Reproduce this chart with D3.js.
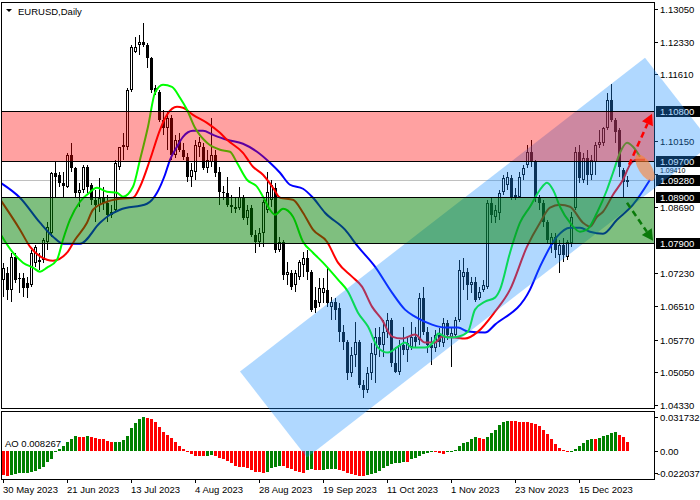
<!DOCTYPE html>
<html><head><meta charset="utf-8">
<script src="https://cdn.jsdelivr.net/npm/d3@7"></script>
<style>
body{margin:0;background:#fff}
svg{display:block}
text{font-family:"Liberation Sans",Arial,sans-serif;font-size:9.5px}
</style>
</head><body>
<svg id="c" width="700" height="500"></svg>
<script>
// ---------------- DATA ----------------
const symbolTitle = "EURUSD,Daily";
const opens = [1.07090,1.07244,1.06870,1.07596,1.07134,1.07134,1.07024,1.06980,1.07464,1.07486,
1.07530,1.07926,1.08124,1.09444,1.09400,1.09224,1.09136,1.09840,1.09554,1.09004,
1.09070,1.09576,1.09180,1.08850,1.08740,1.08894,1.08784,1.08520,1.08630,1.09576,
1.10016,1.10016,1.11270,1.12106,1.12260,1.12326,1.12260,1.11974,1.11314,1.11226,
1.10610,1.10434,1.10654,1.09840,1.10170,1.09950,1.09796,1.09356,1.09466,1.10016,
1.10016,1.09554,1.09686,1.09840,1.09466,1.09026,1.09004,1.08740,1.08652,1.08674,
1.08916,1.08454,1.08674,1.08080,1.07926,1.08124,1.08630,1.08850,1.09114,1.07750,
1.07926,1.07200,1.07244,1.06980,1.07156,1.07420,1.07574,1.07266,1.06650,1.06584,
1.06804,1.06870,1.06496,1.06606,1.06474,1.05946,1.05726,1.05044,1.05440,1.05726,
1.04780,1.04670,1.05044,1.05440,1.05836,1.05660,1.05946,1.06210,1.05264,1.05066,
1.05660,1.05550,1.05616,1.05836,1.05770,1.06694,1.05946,1.05660,1.05594,1.05880,
1.05704,1.06144,1.05836,1.05880,1.06210,1.07156,1.07266,1.06980,1.07046,1.06694,
1.06870,1.06936,1.08784,1.08476,1.08564,1.09026,1.09180,1.09334,1.08960,1.08916,
1.09400,1.09620,1.09906,1.09686,1.08894,1.08784,1.08366,1.07860,1.08036,1.07640,
1.07860,1.07596,1.07904,1.08674,1.09906,1.09290,1.09774,1.09400,1.09686,1.10060,
1.10104,1.10434,1.11050,1.10610,1.10390,1.09510,1.09246];
const highs = [1.07464,1.07376,1.07684,1.07684,1.07244,1.07244,1.07156,1.07750,1.07860,1.07684,
1.08014,1.08366,1.09466,1.09686,1.09466,1.09466,1.09884,1.10104,1.09576,1.09224,
1.09620,1.09620,1.09224,1.09070,1.09334,1.09136,1.08960,1.08740,1.09730,1.10016,
1.10324,1.11314,1.12260,1.12436,1.12480,1.12744,1.12304,1.11996,1.11380,1.11270,
1.10830,1.10786,1.10720,1.10280,1.10324,1.10104,1.09884,1.09664,1.10170,1.10236,
1.10104,1.09950,1.10654,1.09950,1.09576,1.09158,1.09356,1.08960,1.08916,1.09136,
1.08960,1.08740,1.08740,1.08190,1.08234,1.08850,1.09466,1.09290,1.09224,1.08036,
1.07970,1.07486,1.07310,1.07310,1.07530,1.07706,1.07750,1.07310,1.06936,1.07134,
1.07134,1.07376,1.06716,1.06694,1.06584,1.06100,1.05770,1.05616,1.06166,1.05770,
1.04890,1.05176,1.05704,1.06034,1.06056,1.06210,1.06364,1.06254,1.05616,1.05770,
1.06056,1.05836,1.06166,1.06056,1.06804,1.06936,1.06056,1.05836,1.05990,1.06034,
1.06254,1.06210,1.06034,1.06276,1.07530,1.07574,1.07354,1.07156,1.07156,1.06936,
1.07090,1.08850,1.08894,1.08740,1.09070,1.09400,1.09466,1.09400,1.09114,1.09466,
1.09620,1.10060,1.10170,1.09730,1.08960,1.08850,1.08410,1.08124,1.08124,1.07970,
1.08014,1.07970,1.08586,1.10016,1.10060,1.09884,1.09950,1.09840,1.10126,1.10390,
1.10456,1.11204,1.11402,1.10654,1.10434,1.09554,1.09378];
const lows = [1.06716,1.06650,1.06606,1.07024,1.06804,1.06716,1.06694,1.06936,1.07376,1.07310,
1.07464,1.07750,1.08036,1.08916,1.09136,1.08894,1.09114,1.09466,1.08916,1.08696,
1.09004,1.09004,1.08740,1.08366,1.08586,1.08630,1.08366,1.08454,1.08564,1.09510,
1.09730,1.09950,1.11226,1.12084,1.12040,1.12216,1.11754,1.11204,1.11160,1.10566,
1.10280,1.09950,1.09730,1.09774,1.09906,1.09730,1.09246,1.09136,1.09290,1.09796,
1.09510,1.09444,1.09576,1.09356,1.08740,1.08850,1.08696,1.08564,1.08564,1.08630,
1.08410,1.08300,1.08036,1.07684,1.07816,1.07816,1.08564,1.08696,1.07684,1.07706,
1.07090,1.06980,1.06870,1.06826,1.07090,1.07156,1.07090,1.06386,1.06364,1.06496,
1.06584,1.06496,1.06210,1.06210,1.05726,1.05550,1.04890,1.04956,1.05176,1.04714,
1.04494,1.04604,1.04890,1.04824,1.05396,1.05396,1.05814,1.05176,1.05044,1.05000,
1.05440,1.05286,1.05550,1.05616,1.05660,1.05880,1.05484,1.05220,1.05506,1.05616,
1.05616,1.05770,1.05176,1.05814,1.06166,1.06870,1.06650,1.06804,1.06606,1.06650,
1.06826,1.06892,1.08344,1.08344,1.08410,1.08960,1.09070,1.08850,1.08850,1.08894,
1.09290,1.09554,1.09576,1.08806,1.08630,1.08256,1.07904,1.07684,1.07574,1.07244,
1.07486,1.07530,1.07816,1.08630,1.09224,1.09224,1.09180,1.09290,1.09400,1.09994,
1.10038,1.10390,1.10566,1.10104,1.09356,1.08916,1.09136];
const closes = [1.07354,1.06870,1.07596,1.07090,1.07112,1.06914,1.06914,1.07684,1.07816,1.07530,
1.07970,1.08256,1.09444,1.09356,1.09224,1.09158,1.09840,1.09554,1.09004,1.09070,
1.09576,1.09136,1.08850,1.08740,1.08894,1.08784,1.08520,1.08586,1.09664,1.10016,
1.10060,1.11270,1.12216,1.12216,1.12326,1.12260,1.11974,1.11270,1.11226,1.10610,
1.10434,1.10654,1.09840,1.10170,1.09950,1.09796,1.09356,1.09510,1.10060,1.10126,
1.09554,1.09730,1.09840,1.09444,1.09026,1.09004,1.08740,1.08696,1.08696,1.08916,
1.08454,1.08630,1.08080,1.07926,1.08124,1.08806,1.09026,1.09180,1.07750,1.07926,
1.07200,1.07266,1.06936,1.07244,1.07486,1.07574,1.07266,1.06430,1.06474,1.06914,
1.06914,1.06584,1.06606,1.06430,1.05946,1.05726,1.05044,1.05440,1.05726,1.04780,
1.04670,1.05044,1.05484,1.05836,1.05660,1.05946,1.06210,1.05264,1.05066,1.05660,
1.05550,1.05704,1.05836,1.05726,1.06694,1.05946,1.05660,1.05594,1.05880,1.05726,
1.06144,1.05880,1.05924,1.06210,1.07310,1.07266,1.06980,1.07046,1.06650,1.06826,
1.06980,1.08784,1.08520,1.08630,1.09004,1.09334,1.09356,1.08916,1.08894,1.09356,
1.09554,1.09906,1.09686,1.08916,1.08784,1.08366,1.07970,1.08036,1.07750,1.07860,
1.07640,1.07926,1.08476,1.09906,1.09334,1.09774,1.09400,1.09730,1.10060,1.10126,
1.10434,1.11050,1.10610,1.10346,1.09576,1.09246,1.09280];

// Alligator lines: [bar index, price]
const jawLine = [[-1,1.09246],[4.25,1.08894],[9.25,1.08344],[12.5,1.08036],[15,1.07882],[19.25,1.07882],
[24.25,1.08344],[26.75,1.08520],[29.25,1.08630],[36,1.08762],[38.5,1.09004],[40.5,1.09400],[41.75,1.09730],
[43.5,1.10016],[45,1.10236],[47.5,1.10368],[50,1.10368],[52.5,1.10280],[56,1.10170],[60,1.10082],
[63.5,1.09906],[66.75,1.09664],[69.25,1.09444],[71.75,1.09180],[75,1.09092],[77.5,1.08894],[80.5,1.08564],
[85.5,1.08190],[88.75,1.07816],[93,1.07376],[97.25,1.06804],[100.5,1.06430],[103,1.06276],[107.25,1.06100],
[110.5,1.06034],[113.75,1.06034],[116.25,1.05946],[120.5,1.05924],[123,1.06100],[131.75,1.06870],
[134.25,1.07376],[138.5,1.08036],[141.75,1.08234],[144.25,1.08234],[146.75,1.08146],[150,1.08102],
[153.5,1.08410],[157.5,1.08740],[161.75,1.09290]];
const teethLine = [[-1,1.08894],[4.25,1.08190],[6.75,1.07816],[11,1.07530],[12.5,1.07508],[16,1.07684],
[18,1.07970],[21,1.08344],[22.5,1.08630],[26,1.08806],[29.25,1.08872],[32.5,1.08894],[34.25,1.09136],
[36.75,1.09730],[39.25,1.10390],[41,1.10720],[43.5,1.10896],[45,1.10874],[47.5,1.10720],[51,1.10544],
[54.25,1.10324],[56,1.10170],[60,1.09884],[62.5,1.09576],[65,1.09400],[67.5,1.09114],[69.25,1.08894],
[72.5,1.08850],[75,1.08564],[77.5,1.08190],[81,1.07926],[83.75,1.07464],[87.25,1.07156],[89.75,1.06936],
[92.25,1.06496],[94.75,1.06210],[97.25,1.05836],[99.75,1.05792],[103,1.05880],[105.5,1.05704],[108,1.05704],
[109.75,1.05836],[113,1.05814],[115.5,1.05792],[118.75,1.05946],[123,1.06386],[126.75,1.06870],[131,1.07816],
[134.25,1.08344],[136.75,1.08674],[139.25,1.08740],[141.75,1.08696],[145,1.08344],[146.75,1.08256],
[148.5,1.08476],[150,1.08586],[152.5,1.08960],[155,1.09290],[156.75,1.09620],[158.5,1.09730],[160.5,1.09730]];
const lipsLine = [[-1,1.08146],[2.5,1.07684],[5,1.07464],[7.5,1.07354],[9.25,1.07266],[11,1.07354],
[13.5,1.07530],[15,1.07970],[16.75,1.08410],[19.25,1.08806],[21,1.08960],[23.5,1.09114],[26,1.09026],
[28.5,1.09004],[30,1.08916],[32.5,1.09136],[34.25,1.09730],[36.25,1.10456],[38,1.11204],[40,1.11380],
[42.25,1.11336],[44.25,1.11094],[46,1.10830],[48,1.10434],[51,1.10104],[54.25,1.09950],[56.75,1.09906],
[58.5,1.09664],[61,1.09290],[63.5,1.09136],[65,1.08916],[66.75,1.08630],[68,1.08520],[70,1.08652],
[72.5,1.08476],[75,1.07926],[77.5,1.07684],[80,1.07464],[83.75,1.07090],[86.25,1.06826],[88.75,1.06364],
[91.25,1.06056],[93.75,1.05594],[96.25,1.05484],[98.75,1.05616],[100.5,1.05704],[102.25,1.05594],
[105.5,1.05594],[108,1.05770],[108.75,1.05902],[111.25,1.05814],[113.75,1.05836],[116.25,1.05946],
[118,1.06430],[120.5,1.06606],[123,1.06694],[124.25,1.06870],[126.75,1.07684],[129.25,1.08344],
[131.75,1.08696],[134.25,1.09070],[136,1.09224],[137.5,1.09070],[139.25,1.08696],[141.75,1.08344],
[144.25,1.08146],[146,1.08190],[148.5,1.08564],[151,1.09070],[152.5,1.09444],[154.25,1.09884],
[156,1.10104],[157.5,1.10016],[159.25,1.09796]];

// Awesome Oscillator, first value belongs to bar -1
const aoStartBar = -1;
const aoValues = [-0.0216,-0.0224,-0.0230,-0.0224,-0.0215,-0.0209,-0.0207,-0.0202,-0.0193,-0.0184,-0.0171,
-0.0146,-0.0106,-0.0078,0.0004,0.0016,0.0047,0.0087,0.0112,0.0140,0.0135,
0.0133,0.0141,0.0129,0.0120,0.0116,0.0108,0.0090,0.0080,0.0082,0.0087,
0.0103,0.0143,0.0210,0.0265,0.0300,0.0318,0.0312,0.0300,0.0270,0.0225,
0.0180,0.0149,0.0118,0.0081,0.0047,0.0019,-0.0012,-0.0031,-0.0044,-0.0047,
-0.0050,-0.0046,-0.0040,-0.0047,-0.0062,-0.0078,-0.0093,-0.0115,-0.0140,-0.0146,
-0.0150,-0.0162,-0.0177,-0.0193,-0.0199,-0.0202,-0.0193,-0.0162,-0.0146,-0.0137,
-0.0140,-0.0156,-0.0171,-0.0187,-0.0196,-0.0202,-0.0180,-0.0171,-0.0173,-0.0175,
-0.0173,-0.0172,-0.0171,-0.0170,-0.0174,-0.0184,-0.0202,-0.0215,-0.0224,-0.0230,
-0.0233,-0.0227,-0.0215,-0.0202,-0.0184,-0.0156,-0.0140,-0.0125,-0.0115,-0.0109,
-0.0103,-0.0106,-0.0078,-0.0062,-0.0047,-0.0028,-0.0016,-0.0009,-0.0012,-0.0022,
-0.0028,-0.0009,0.0002,0.0009,0.0047,0.0072,0.0087,0.0109,0.0128,0.0120,
0.0113,0.0135,0.0165,0.0200,0.0240,0.0268,0.0280,0.0279,0.0277,0.0275,
0.0272,0.0270,0.0265,0.0255,0.0230,0.0195,0.0155,0.0110,0.0065,0.0030,
0.0005,-0.0012,-0.0005,0.0015,0.0045,0.0075,0.0098,0.0115,0.0112,0.0125,
0.0140,0.0152,0.0165,0.0175,0.0150,0.0128,0.008267];
const aoTitle = "AO 0.008267";
const aoTicks = [0.031732, 0, -0.022037];
const aoTickLabels = ["0.031732","0.00","-0.022037"];

const dateTickBars = [0,16,32,48,64,80,96,112,128,144];
const dateTickLabels = ["30 May 2023","21 Jun 2023","13 Jul 2023","4 Aug 2023","28 Aug 2023",
"19 Sep 2023","11 Oct 2023","1 Nov 2023","23 Nov 2023","15 Dec 2023"];
const priceTickLabels = ["1.13050","1.12330","1.11610","1.10150","1.09410","1.08690",
"1.07230","1.06510","1.05770","1.05050","1.04330"];

const levels = [1.10800, 1.09700, 1.08900, 1.07900];
const levelLabels = ["1.10800","1.09700","1.08900","1.07900"];
const currentPrice = 1.09280;
const currentLabel = "1.09280";
const resistanceZone = [1.09700, 1.10800];
const supportZone = [1.07900, 1.08900];
// rising channel drawing: [bar index, price]
const channelCorners = [[59.25,1.05066],[160.5,1.11974],[177.25,1.10082],[76,1.03174]];
const upArrow = [[156.5,1.09620],[162.25,1.10742]];
const downArrow = [[156,1.08784],[162.5,1.07948]];
const markEllipse = {bar:160.5, price:1.09554};

// ---------------- CHART ----------------
const svg = d3.select("#c");
const mainL = 1, mainR = 654, mainT = 2, mainB = 408, aoT = 411, aoB = 479;

const x = d3.scaleLinear().domain([0, 156]).range([3, 627]);
const y = d3.scaleLinear().domain([1.04330, 1.13050]).range([405, 9]);
const yAO = d3.scaleLinear().domain([0, 0.031732]).range([451, 417]);

svg.append("rect").attr("width",700).attr("height",500).attr("fill","#fff");
const defs = svg.append("defs");
defs.append("clipPath").attr("id","clipMain").append("rect")
  .attr("x",mainL+1).attr("y",mainT+1).attr("width",mainR-mainL-1).attr("height",mainB-mainT-1);
defs.append("clipPath").attr("id","clipAO").append("rect")
  .attr("x",mainL+1).attr("y",aoT+1).attr("width",mainR-mainL-1).attr("height",aoB-aoT-1);

const px = v => Math.round(v);

// current price line
svg.append("line").attr("x1",mainL).attr("x2",mainR)
  .attr("y1",px(y(currentPrice))+0.5).attr("y2",px(y(currentPrice))+0.5)
  .attr("stroke","#c0c0c0").attr("stroke-width",1);

// candles
const gC = svg.append("g").attr("clip-path","url(#clipMain)").attr("shape-rendering","crispEdges");
opens.forEach((o,i) => {
  const c = closes[i];
  const cx = px(x(i));
  const yh = px(y(highs[i])), yl = px(y(lows[i]));
  gC.append("rect").attr("x",cx).attr("y",yh).attr("width",1).attr("height",Math.max(1,yl-yh)).attr("fill","#000");
  const yt = px(y(Math.max(o,c))), yb = px(y(Math.min(o,c)));
  const bh = Math.max(1, yb-yt);
  gC.append("rect").attr("x",cx-1).attr("y",yt).attr("width",3).attr("height",bh).attr("fill","#000");
  if (c > o && bh > 2)
    gC.append("rect").attr("x",cx).attr("y",yt+1).attr("width",1).attr("height",bh-2).attr("fill","#fff");
});

// alligator
const lineGen = d3.line().x(d => x(d[0])).y(d => y(d[1])).curve(d3.curveMonotoneX);
const gL = svg.append("g").attr("clip-path","url(#clipMain)");
[[jawLine,"#0000ff"],[teethLine,"#ff0000"],[lipsLine,"#00ff00"]].forEach(([d,col]) => {
  gL.append("path").attr("d",lineGen(d)).attr("fill","none").attr("stroke",col).attr("stroke-width",2);
});

// AO histogram
const gA = svg.append("g").attr("clip-path","url(#clipAO)").attr("shape-rendering","crispEdges");
aoValues.forEach((v,k) => {
  if (k === 0) return;
  const i = k + aoStartBar;
  const col = v > aoValues[k-1] ? "#008000" : "#ff0000";
  const y0 = px(yAO(0)), y1 = px(yAO(v));
  const top = Math.min(y0,y1), h = Math.max(1, Math.abs(y1-y0));
  gA.append("rect").attr("x",px(x(i))-1).attr("y",top).attr("width",3).attr("height",h).attr("fill",col);
});

// frames
const gF = svg.append("g").attr("shape-rendering","crispEdges").attr("stroke","#000").attr("fill","none");
gF.append("rect").attr("x",mainL+0.5).attr("y",mainT+0.5).attr("width",mainR-mainL).attr("height",mainB-mainT);
gF.append("rect").attr("x",mainL+0.5).attr("y",aoT+0.5).attr("width",mainR-mainL).attr("height",aoB-aoT);

// right price axis
const gY = svg.append("g");
const boxYs = levels.concat([currentPrice]).map(v => px(y(v))).sort((a,b) => a-b);
priceTickLabels.forEach(t => {
  const yy = px(y(+t));
  gY.append("line").attr("x1",mainR).attr("x2",mainR+4).attr("y1",yy+0.5).attr("y2",yy+0.5).attr("stroke","#000");
  // if a price box covers this tick, squeeze the label into the gap between boxes
  const hit = boxYs.some(b => Math.abs(yy-b) < 10);
  if (hit) {
    const above = boxYs.filter(b => b <= yy + 9).filter(b => b < yy + 10);
    const upper = Math.max(...boxYs.filter(b => b < yy - 2));
    const lower = Math.min(...boxYs.filter(b => b > yy - 2));
    const mid = (upper + lower) / 2;
    gY.append("text").attr("x",mainR+6).attr("y",mid+2.5).attr("fill","#000")
      .style("font-size","7px").text(t);
  } else {
    gY.append("text").attr("x",mainR+6).attr("y",yy+3.5).attr("fill","#000").text(t);
  }
});
// AO axis
aoTicks.forEach((t,k) => {
  const yy = Math.min(px(yAO(t)), aoB-6);
  gY.append("line").attr("x1",mainR).attr("x2",mainR+4).attr("y1",yy+0.5).attr("y2",yy+0.5).attr("stroke","#000");
  gY.append("text").attr("x",mainR+(t<0?3:6)).attr("y",yy+3.5).attr("fill","#000").text(aoTickLabels[k]);
});
// date axis
dateTickBars.forEach((b,k) => {
  const xx = px(x(b));
  gY.append("line").attr("x1",xx+0.5).attr("x2",xx+0.5).attr("y1",aoB).attr("y2",aoB+4).attr("stroke","#000");
  gY.append("text").attr("x",xx).attr("y",493).attr("fill","#000").text(dateTickLabels[k]);
});

// label boxes
function box(val,label){
  const yy = px(y(val));
  gY.append("rect").attr("x",mainR+2).attr("y",yy-5).attr("width",46).attr("height",11).attr("fill","#000");
  gY.append("text").attr("x",mainR+6).attr("y",yy+3.5).attr("fill","#fff").text(label);
}
levels.forEach((v,k) => box(v, levelLabels[k]));
box(currentPrice, currentLabel);

// channel (drawn over everything below it)
svg.append("polygon")
  .attr("points", channelCorners.map(d => [x(d[0]), y(d[1])].join(",")).join(" "))
  .attr("fill","rgb(30,144,255)").attr("fill-opacity",0.35);

// zones
const gZ = svg.append("g").attr("shape-rendering","crispEdges");
gZ.append("rect").attr("x",mainL+1).attr("width",mainR-mainL-1)
  .attr("y",px(y(resistanceZone[1]))).attr("height",px(y(resistanceZone[0]))-px(y(resistanceZone[1])))
  .attr("fill","rgb(255,0,0)").attr("fill-opacity",0.37);
gZ.append("rect").attr("x",mainL+1).attr("width",mainR-mainL-1)
  .attr("y",px(y(supportZone[1]))).attr("height",px(y(supportZone[0]))-px(y(supportZone[1])))
  .attr("fill","rgb(0,128,0)").attr("fill-opacity",0.5);
levels.forEach(v => {
  const yy = px(y(v))+0.5;
  gZ.append("line").attr("x1",mainL).attr("x2",mainR).attr("y1",yy).attr("y2",yy).attr("stroke","#000");
});

// ellipse marker
svg.append("ellipse").attr("cx",x(markEllipse.bar)).attr("cy",y(markEllipse.price))
  .attr("rx",15).attr("ry",6.5)
  .attr("transform",`rotate(58 ${x(markEllipse.bar)} ${y(markEllipse.price)})`)
  .attr("fill","rgb(255,130,50)").attr("fill-opacity",0.6);

// arrows
function arrow(pts,col){
  const [a,b] = pts.map(d => [x(d[0]), y(d[1])]);
  const dx = b[0]-a[0], dy = b[1]-a[1], L = Math.hypot(dx,dy);
  const ux = dx/L, uy = dy/L, hl = 11, hw = 6;
  const bx = b[0]-ux*hl, by = b[1]-uy*hl;
  svg.append("line").attr("x1",a[0]).attr("y1",a[1]).attr("x2",bx).attr("y2",by)
    .attr("stroke",col).attr("stroke-width",2.5).attr("stroke-dasharray","6,4");
  svg.append("polygon").attr("points",
    [[b[0],b[1]],[bx-uy*hw,by+ux*hw],[bx+uy*hw,by-ux*hw]].map(p=>p.join(",")).join(" "))
    .attr("fill",col);
}
arrow(upArrow,"#ff0000");
arrow(downArrow,"#0a7a0a");

// titles
svg.append("polygon").attr("points","6,9 12,9 9,12").attr("fill","#000");
svg.append("text").attr("x",18).attr("y",15).attr("fill","#000").text(symbolTitle);
svg.append("text").attr("x",5).attr("y",447).attr("fill","#000").text(aoTitle);
</script>
</body></html>
